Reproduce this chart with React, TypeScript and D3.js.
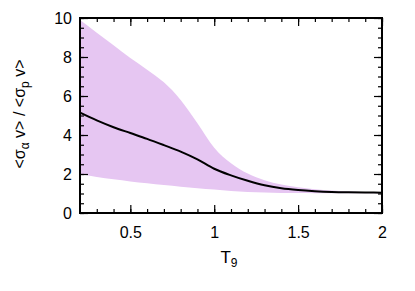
import React, { useEffect, useRef } from "react";
import * as d3 from "d3";

// temperature grid (T9)
const temps = [0.2, 0.3, 0.4, 0.5, 0.6, 0.7, 0.8, 0.9, 1.0, 1.1, 1.2, 1.3, 1.4, 1.5, 1.6, 1.7, 1.8, 1.9, 2.0];
// ratio, central value
const ratioMid = [5.15, 4.75, 4.4, 4.1, 3.8, 3.48, 3.15, 2.75, 2.27, 1.93, 1.65, 1.42, 1.27, 1.18, 1.12, 1.08, 1.06, 1.05, 1.04];
// band upper / lower edges
const ratioHigh = [9.9, 9.25, 8.6, 7.95, 7.35, 6.7, 5.8, 4.6, 3.35, 2.55, 2.02, 1.68, 1.46, 1.32, 1.22, 1.15, 1.1, 1.07, 1.05];
const ratioLow = [2.0, 1.85, 1.73, 1.62, 1.52, 1.43, 1.35, 1.27, 1.2, 1.13, 1.08, 1.05, 1.03, 1.02, 1.01, 1.01, 1.01, 1.01, 1.01];

const xTicks = [0.5, 1, 1.5, 2];
const yTicks = [0, 2, 4, 6, 8, 10];

const App = () => {
  const ref = useRef(null);

  useEffect(() => {
    const svg = d3.select(ref.current);
    svg.selectAll("*").remove();

    const left = 80, right = 382, top = 18, bottom = 213;
    const x = d3.scaleLinear().domain([0.2, 2]).range([left, right]);
    const y = d3.scaleLinear().domain([0, 10]).range([bottom, top]);

    const rows = temps.map((t, i) => ({ t, lo: ratioLow[i], hi: ratioHigh[i], mid: ratioMid[i] }));

    svg.append("path")
      .datum(rows)
      .attr("fill", "#e6c6f2")
      .attr("d", d3.area<any>()
        .x(d => x(d.t))
        .y0(d => y(d.lo))
        .y1(d => y(d.hi))
        .curve(d3.curveMonotoneX));

    svg.append("path")
      .datum(rows)
      .attr("fill", "none")
      .attr("stroke", "#000")
      .attr("stroke-width", 2)
      .attr("d", d3.line<any>()
        .x(d => x(d.t))
        .y(d => y(d.mid))
        .curve(d3.curveMonotoneX));

    const font = "Liberation Sans, Arial, sans-serif";

    // axes, ticks inward on all four sides
    const minorX = d3.range(3, 21).map(v => v / 10);
    const minorY = d3.range(0, 21).map(v => v / 2);
    const noLabel = () => "";

    svg.append("g").attr("transform", `translate(0,${bottom})`)
      .call(d3.axisBottom(x).tickValues(minorX).tickSize(-4).tickFormat(noLabel));
    svg.append("g").attr("transform", `translate(0,${top})`)
      .call(d3.axisTop(x).tickValues(minorX).tickSize(-4).tickFormat(noLabel));
    svg.append("g").attr("transform", `translate(${left},0)`)
      .call(d3.axisLeft(y).tickValues(minorY).tickSize(-4).tickFormat(noLabel));
    svg.append("g").attr("transform", `translate(${right},0)`)
      .call(d3.axisRight(y).tickValues(minorY).tickSize(-4).tickFormat(noLabel));

    svg.append("g").attr("transform", `translate(0,${bottom})`)
      .call(d3.axisBottom(x).tickValues(xTicks).tickSize(-8).tickPadding(14).tickFormat(d3.format("")))
      .call(g => g.selectAll("text").attr("font-size", 16).attr("font-family", font).attr("fill", "#000"));
    svg.append("g").attr("transform", `translate(0,${top})`)
      .call(d3.axisTop(x).tickValues(xTicks).tickSize(-8).tickFormat(noLabel));
    svg.append("g").attr("transform", `translate(${left},0)`)
      .call(d3.axisLeft(y).tickValues(yTicks).tickSize(-8).tickPadding(8).tickFormat(d3.format("")))
      .call(g => g.selectAll("text").attr("font-size", 16).attr("font-family", font).attr("fill", "#000"));
    svg.append("g").attr("transform", `translate(${right},0)`)
      .call(d3.axisRight(y).tickValues(yTicks).tickSize(-8).tickFormat(noLabel));

    svg.selectAll(".domain").remove();
    svg.selectAll(".tick line").attr("stroke", "#000").attr("stroke-width", 1.2);

    svg.append("rect")
      .attr("x", left).attr("y", top)
      .attr("width", right - left).attr("height", bottom - top)
      .attr("fill", "none").attr("stroke", "#000").attr("stroke-width", 2);

    // x label
    const xl = svg.append("text")
      .attr("x", 229).attr("y", 263)
      .attr("text-anchor", "middle")
      .attr("font-family", font).attr("font-size", 17);
    xl.append("tspan").text("T");
    xl.append("tspan").attr("font-size", 12).attr("dy", 4).text("9");

    // y label
    const yl = svg.append("text")
      .attr("transform", "translate(25,114) rotate(-90)")
      .attr("text-anchor", "middle")
      .attr("font-family", font).attr("font-size", 16);
    yl.append("tspan").text("<σ");
    yl.append("tspan").attr("font-size", 12).attr("dy", 4).text("α");
    yl.append("tspan").attr("dy", -4).text(" v> / <σ");
    yl.append("tspan").attr("font-size", 12).attr("dy", 4).text("p");
    yl.append("tspan").attr("dy", -4).text(" v>");
  }, []);

  return (
    <svg ref={ref} width={415} height={291}
      style={{ position: "absolute", left: 0, top: 0, background: "#fff" }} />
  );
};

export default App;
